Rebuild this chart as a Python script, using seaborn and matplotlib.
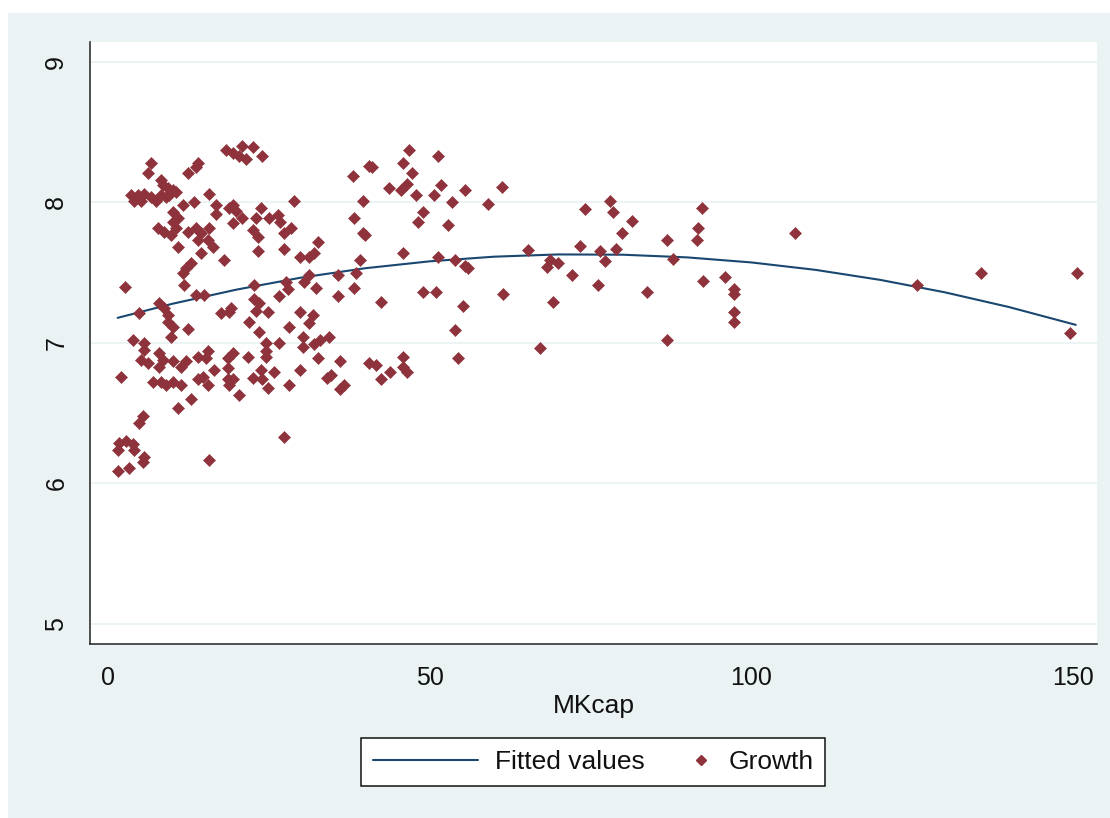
import matplotlib
matplotlib.use("Agg")
import matplotlib.pyplot as plt
import seaborn as sns
import pandas as pd
from matplotlib.lines import Line2D
from matplotlib.legend_handler import HandlerBase
from matplotlib.patches import Rectangle

# ---------------- data ----------------
mkcap = [
    6.7, 6.2, 14.0, 13.7, 12.4, 18.3, 8.2, 8.5, 9.3, 10.1, 10.6, 3.6, 4.7, 5.6, 4.0, 5.1, 6.7, 7.5, 8.2, 9.0,
    9.5, 15.7, 16.8, 16.8, 18.8, 11.6, 13.3, 10.1, 10.9, 10.1, 10.6, 7.8, 8.7, 9.8, 12.4, 13.7, 14.4, 15.7, 14.0, 15.5,
    16.3, 10.9, 14.4, 18.0, 12.9, 12.1, 11.6, 11.8, 2.6, 13.7, 14.9,
    7.9, 8.7, 9.3, 4.8, 9.3, 10.1, 9.8, 12.4, 17.5, 18.8, 3.9, 5.6, 5.6, 5.1, 6.2, 7.9, 8.5, 7.9, 10.1,
    11.3, 12.1, 14.0, 15.5, 15.2, 16.4, 18.6, 18.6, 2.0, 7.0, 8.2, 9.0, 10.1, 11.3, 14.0, 14.7, 15.5, 18.6, 12.9, 10.9,
    5.4, 4.8, 1.7, 2.8, 3.9, 1.6, 4.0, 5.6, 5.4, 3.3, 1.6, 15.7,
    19.5, 20.9, 22.5, 20.3, 21.4, 24.0, 38.0, 40.5, 19.5, 19.9, 23.7, 28.9, 39.7, 19.4, 20.9, 23.0, 25.0, 26.4, 26.8, 28.4,
    22.5, 23.3, 27.3, 38.2, 39.7, 32.7, 23.3, 27.3, 29.9, 31.2, 32.0, 39.2, 22.7, 27.6, 27.9, 31.2, 30.4, 32.3, 35.7, 38.5,
    38.2,
    22.7, 23.4, 23.0, 24.8, 26.5, 35.8, 19.1, 21.9, 23.4, 29.9, 31.8, 31.2, 28.1, 30.3, 30.3, 32.0, 33.0, 34.3, 24.5, 24.5,
    24.5, 26.5, 19.4, 21.7, 32.7, 36.1, 40.5, 23.7, 25.8, 29.9, 19.5, 18.8, 22.5, 24.0, 24.8, 28.1, 34.6, 34.1, 36.6, 36.1,
    20.3, 27.3,
    46.7, 45.8, 51.3, 41.1, 47.3, 46.5, 43.6, 45.5, 47.8, 51.7, 50.6, 55.5, 61.3, 53.5, 59.1, 49.0, 48.2, 52.9, 40.0, 45.8,
    51.3, 54.0, 55.5, 56.0, 65.3, 48.9, 50.9, 61.4, 42.4, 55.1, 54.0, 67.2, 45.8, 41.6, 45.9, 46.5, 43.9, 42.4, 54.4,
    78.0, 74.1, 78.5, 81.4, 79.9, 73.4, 76.5, 79.0, 68.7, 68.3, 70.0, 77.3, 72.1, 76.2, 69.2, 83.8, 86.9, 87.8, 92.3, 91.7,
    91.5, 106.7, 92.5, 95.9, 97.3, 97.3, 97.3, 97.3, 86.9,
    125.8, 135.7, 150.6, 149.5,
]
growth = [
    8.28, 8.21, 8.28, 8.25, 8.21, 8.37, 8.16, 8.12, 8.10, 8.09, 8.07, 8.05, 8.05, 8.06, 8.01, 8.01, 8.04, 8.01, 8.05, 8.04,
    8.05, 8.06, 7.98, 7.92, 7.96, 7.98, 8.00, 7.93, 7.89, 7.86, 7.82, 7.82, 7.79, 7.77, 7.79, 7.82, 7.78, 7.82, 7.73, 7.73,
    7.68, 7.68, 7.64, 7.59, 7.57, 7.53, 7.50, 7.41, 7.40, 7.34, 7.34,
    7.28, 7.25, 7.20, 7.21, 7.15, 7.11, 7.04, 7.10, 7.21, 7.22, 7.02, 7.00, 6.95, 6.88, 6.86, 6.93, 6.88, 6.83, 6.87,
    6.83, 6.87, 6.90, 6.94, 6.89, 6.81, 6.89, 6.82, 6.76, 6.72, 6.72, 6.70, 6.72, 6.70, 6.74, 6.76, 6.70, 6.74, 6.60, 6.54,
    6.48, 6.43, 6.29, 6.30, 6.28, 6.24, 6.24, 6.19, 6.15, 6.11, 6.09, 6.17,
    8.35, 8.40, 8.39, 8.33, 8.31, 8.33, 8.19, 8.26, 7.98, 7.94, 7.96, 8.01, 8.01, 7.85, 7.89, 7.89, 7.89, 7.91, 7.86, 7.82,
    7.80, 7.75, 7.78, 7.89, 7.78, 7.72, 7.65, 7.67, 7.61, 7.61, 7.64, 7.59, 7.41, 7.43, 7.38, 7.48, 7.43, 7.39, 7.48, 7.50,
    7.39,
    7.31, 7.28, 7.23, 7.22, 7.33, 7.33, 7.25, 7.15, 7.08, 7.22, 7.20, 7.14, 7.11, 7.04, 6.97, 6.99, 7.02, 7.04, 7.00, 6.94,
    6.90, 7.00, 6.93, 6.90, 6.89, 6.87, 6.86, 6.81, 6.79, 6.81, 6.74, 6.70, 6.75, 6.74, 6.68, 6.70, 6.77, 6.75, 6.70, 6.67,
    6.63, 6.33,
    8.37, 8.28, 8.33, 8.25, 8.21, 8.13, 8.10, 8.09, 8.05, 8.12, 8.05, 8.09, 8.11, 8.00, 7.99, 7.93, 7.86, 7.84, 7.77, 7.64,
    7.61, 7.59, 7.55, 7.53, 7.66, 7.36, 7.36, 7.35, 7.29, 7.26, 7.09, 6.96, 6.90, 6.84, 6.83, 6.79, 6.79, 6.74, 6.89,
    8.01, 7.95, 7.93, 7.87, 7.78, 7.69, 7.65, 7.67, 7.59, 7.54, 7.57, 7.58, 7.48, 7.41, 7.29, 7.36, 7.73, 7.60, 7.96, 7.82,
    7.73, 7.78, 7.44, 7.47, 7.38, 7.35, 7.22, 7.15, 7.02,
    7.41, 7.50, 7.50, 7.07,
]

# fitted (quadratic) values
fit_x = [1.5, 10, 20, 30, 40, 50, 60, 70, 80, 90, 100, 110, 120, 130, 140, 150.4]
fit_y = [7.178, 7.278, 7.379, 7.464, 7.531, 7.580, 7.613, 7.629, 7.627, 7.608, 7.572, 7.519, 7.448, 7.360, 7.255, 7.128]

x_ticks = [0, 50, 100, 150]
y_ticks = [5, 6, 7, 8, 9]
x_label = "MKcap"
legend_labels = ["Fitted values", "Growth"]

# ---------------- style ----------------
BG = "#EAF2F3"
NAVY = "#1A476F"
MAROON = "#8E333B"
W, H = 1110, 818

sns.set_style("white")
plt.rcParams["font.family"] = ["Liberation Sans", "DejaVu Sans"]

fig = plt.figure(figsize=(W / 100, H / 100), dpi=100)
fig.patch.set_facecolor("white")
fig.patches.append(Rectangle((8 / W, 0), 1 - 8 / W, (H - 13) / H, transform=fig.transFigure,
                             facecolor=BG, edgecolor="none", zorder=-10))

ax = fig.add_axes([90 / W, (H - 644) / H, (1097 - 90) / W, (644 - 42) / H])
ax.set_facecolor("white")

df_pts = pd.DataFrame({"MKcap": mkcap, "Growth": growth})
df_fit = pd.DataFrame({"MKcap": fit_x, "Fitted": fit_y})

sns.lineplot(data=df_fit, x="MKcap", y="Fitted", ax=ax, color=NAVY, lw=1.5, legend=False, zorder=2)
sns.scatterplot(data=df_pts, x="MKcap", y="Growth", ax=ax, marker="D", s=38, color=MAROON,
                edgecolor=MAROON, linewidth=0.4, legend=False, zorder=3)

ax.set_xlim(-2.8, 153.7)
ax.set_ylim(4.858, 9.14)
ax.set_xticks(x_ticks)
ax.set_yticks(y_ticks)
ax.yaxis.grid(True, color=BG, lw=1.3)
ax.xaxis.grid(False)
ax.set_axisbelow(True)

sns.despine(ax=ax)
for side in ("left", "bottom"):
    ax.spines[side].set_color("#222222")
    ax.spines[side].set_linewidth(1.1)

ax.tick_params(axis="both", direction="out", length=8.6, width=1.1, color="#222222",
               labelsize=18, labelcolor="#111111")
ax.tick_params(axis="x", pad=7)
ax.tick_params(axis="y", pad=7)
for lbl in ax.get_yticklabels():
    lbl.set_rotation(90)
    lbl.set_va("center")
    lbl.set_ha("right")

ax.set_xlabel(x_label, fontsize=19, labelpad=3, color="#111111")
ax.set_ylabel("")


class RightMarkerHandler(HandlerBase):
    def __init__(self, offset):
        super().__init__()
        self.offset = offset

    def create_artists(self, legend, orig_handle, xdescent, ydescent, width, height, fontsize, trans):
        x = -xdescent + width - self.offset
        y = -ydescent + height / 2
        m = Line2D([x], [y], marker="D", ls="none", color=MAROON, mec=MAROON, ms=5.3)
        m.set_transform(trans)
        return [m]


line_h = Line2D([], [], color=NAVY, lw=1.5)
mark_h = Line2D([], [], marker="D", ls="none", color=MAROON)
leg = ax.legend(handles=[line_h, mark_h], labels=legend_labels,
                handler_map={mark_h: RightMarkerHandler(7.5)},
                loc="center", bbox_to_anchor=(593 / W, 1 - 762 / H), bbox_transform=fig.transFigure,
                ncol=2, fontsize=19, handlelength=3.98, handletextpad=0.64, columnspacing=-1.44,
                borderpad=0.45, frameon=True, fancybox=False, framealpha=1, edgecolor="#111111")
leg.get_frame().set_linewidth(1.1)
for t in leg.get_texts():
    t.set_color("#111111")

fig.savefig("out.png", dpi=100, facecolor=fig.get_facecolor())
